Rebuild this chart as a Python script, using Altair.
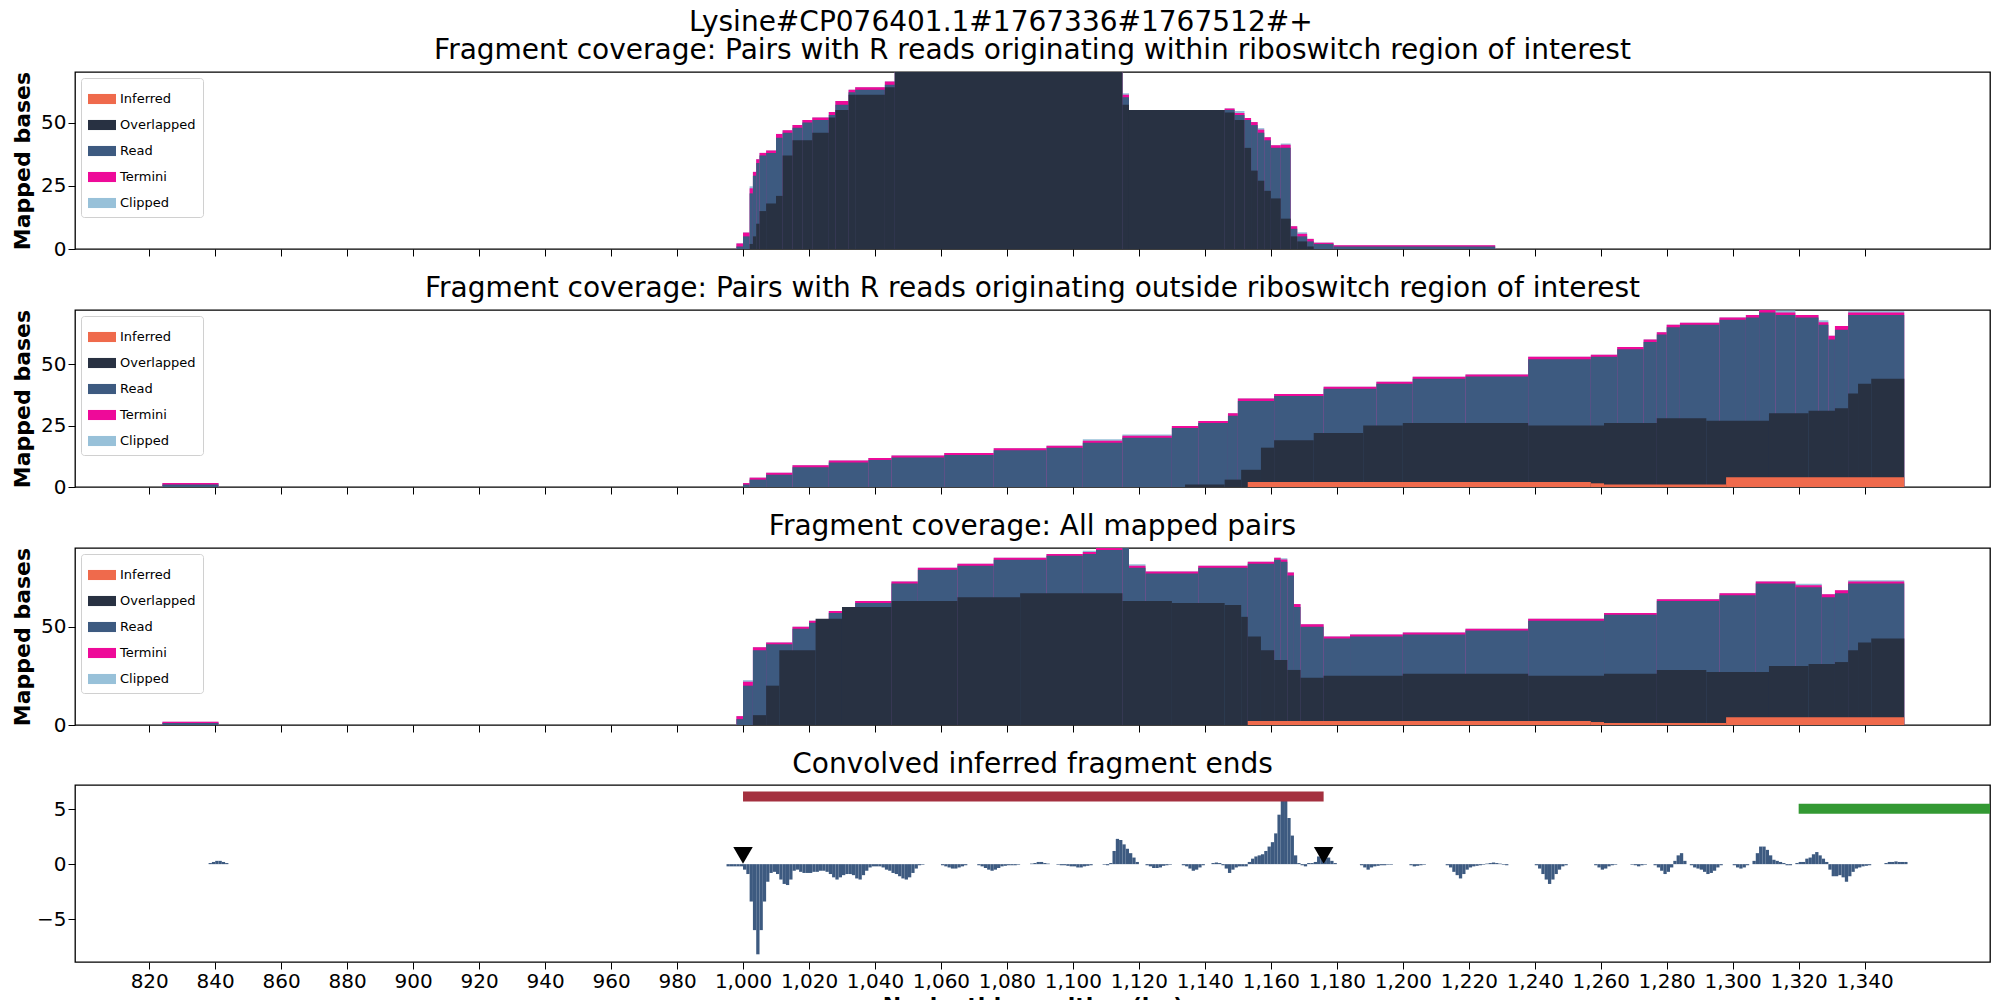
import altair as alt
import pandas as pd

FONT = "DejaVu Sans"
X_DOMAIN = [797.5, 1378]
X_TICKS = list(range(820, 1341, 20))

# ---- panel 1: pairs with R reads originating within riboswitch region ----
p1_pos = [998, 1000, 1002, 1003, 1004, 1005, 1007, 1010, 1012, 1015, 1018, 1021, 1026, 1028, 1032, 1034, 1043,
          1046, 1115, 1117, 1146, 1149, 1152, 1154, 1156, 1158, 1160, 1163, 1166, 1168, 1171, 1173, 1179, 1228]
p1_tot = [1, 5, 22, 29, 34, 37, 38, 44, 46, 48, 50, 51, 53, 57, 62, 63, 65,
          72, 60, 55, 55, 53, 51, 49, 46, 43, 40, 40, 8, 5, 3, 2, 1]
p1_ovl = [0, 0, 2, 5, 10, 15, 18, 21, 37, 43, 43, 46, 52, 55, 61, 61, 64,
          72, 57, 55, 54, 51, 40, 31, 27, 23, 20, 12, 5, 3, 1, 0, 0]
p1_term = [1.2, 1.5, 2, 1.5, 1.5, 1, 1, 1.5, 1, 1, 1, 1, 1.2, 1.5, 1, 1, 1.2,
           0, 1, 0, 0.6, 0.8, 0.8, 1.2, 1.2, 1.2, 1, 1.2, 1, 1, 1, 0.5, 0.5]
p1_clip = [0, 0, 0.8, 0, 0, 0, 0, 0, 0, 0, 0, 0, 0, 0, 0, 0, 0,
           0, 0.6, 0, 0, 0.8, 0, 0, 0.6, 0, 0, 0.5, 0, 0.6, 0, 0, 0]
p1_inf_pos = [998, 1228]
p1_inf = [0]

# ---- panel 2: pairs with R reads originating outside riboswitch region ----
p2_pos = [824, 841, 1000, 1002, 1007, 1015, 1026, 1038, 1045, 1061, 1076, 1092, 1103, 1115, 1130, 1138, 1147,
          1150, 1161, 1176, 1192, 1203, 1219, 1238, 1257, 1265, 1273, 1277, 1280, 1284, 1296, 1304, 1308,
          1313, 1319, 1326, 1329, 1331, 1335, 1352]
p2_tot = [1, 0, 1, 3, 5, 8, 10, 11, 12, 13, 15, 16, 18, 20, 24, 26, 29,
          35, 37, 40, 42, 44, 45, 52, 53, 56, 59, 62, 65, 66, 68, 69, 71,
          70, 69, 66, 60, 64, 70]
p2_term = [0.6, 0, 0.6, 0.8, 0.8, 0.8, 0.8, 0.8, 0.8, 0.8, 0.8, 0.8, 0.8, 0.8, 0.8, 0.8, 1,
           1, 0.8, 0.8, 0.8, 0.8, 0.8, 1, 0.8, 1, 1, 1, 1, 0.8, 1, 1, 1,
           1, 1, 1, 1.5, 1.5, 1]
p2_clip = [0, 0, 0, 0, 0, 0, 0, 0, 0, 0, 0, 0, 0.6, 0.6, 0, 0, 0,
           0, 0, 0, 0, 0, 0, 0, 0, 0, 0, 0, 0, 0, 0, 0, 0,
           0.8, 0, 0.8, 0, 0, 0.6]
p2_ovl_pos = [1134, 1146, 1151, 1157, 1161, 1173, 1188, 1200, 1238, 1261, 1277, 1292, 1311, 1323, 1331, 1335,
              1338, 1342, 1352]
p2_ovl = [1, 3, 7, 16, 19, 22, 25, 26, 25, 26, 28, 27, 30, 31, 32, 38, 42, 44]
p2_inf_pos = [1153, 1257, 1261, 1298, 1352]
p2_inf = [2, 1.5, 1, 4]

# ---- panel 3: all mapped pairs ----
p3_pos = [824, 841, 998, 1000, 1003, 1007, 1015, 1020, 1026, 1034, 1045, 1053, 1065, 1076, 1092, 1103, 1107,
          1115, 1117, 1122, 1138, 1153, 1161, 1163, 1165, 1167, 1169, 1176, 1184, 1200, 1219, 1238, 1261,
          1277, 1296, 1307, 1319, 1327, 1331, 1335, 1352]
p3_tot = [1, 0, 3, 20, 38, 41, 49, 52, 57, 62, 72, 79, 81, 84, 86, 87, 89,
          92, 80, 77, 80, 82, 84, 83, 76, 60, 50, 44, 45, 46, 48, 53, 56,
          63, 66, 72, 70, 65, 67, 72]
p3_term = [0.6, 0, 1.5, 2, 1.5, 1, 1, 1, 1, 1, 1, 1, 1, 1, 1, 1, 1,
           0, 1, 1, 1, 1, 1, 1.2, 1.5, 1.5, 1.2, 1, 1, 1, 1, 1, 1,
           1, 1, 1, 1, 1.5, 1.5, 1]
p3_clip = [0, 0, 0, 0.8, 0, 0, 0, 0, 0, 0, 0, 0, 0, 0, 0, 0.6, 0,
           0, 0.8, 0, 0, 0, 0, 0.6, 0, 0, 0, 0, 0, 0, 0, 0, 0,
           0, 0, 0, 0.8, 0, 0, 0.6]
p3_ovl_pos = [1003, 1007, 1011, 1022, 1030, 1045, 1065, 1084, 1115, 1130, 1146, 1151, 1153, 1157, 1161, 1165,
              1169, 1176, 1200, 1238, 1261, 1277, 1292, 1311, 1323, 1331, 1335, 1338, 1342, 1352]
p3_ovl = [5, 20, 38, 54, 60, 63, 65, 67, 63, 62, 61, 55, 45, 38, 33, 28, 24, 25, 26, 25,
          26, 28, 27, 30, 31, 32, 38, 42, 44]
p3_inf_pos = [1153, 1257, 1261, 1298, 1352]
p3_inf = [2, 1.5, 1, 4]

# ---- panel 4: convolved inferred fragment ends (runs of 1-bp bins) ----
conv_run_starts = [838, 995, 1060, 1071, 1087, 1095, 1109, 1122, 1133, 1142, 1187, 1202, 1213, 1240, 1258,
                   1269, 1276, 1287, 1300, 1306, 1319, 1346]
conv_run_values = [
    [0.1, 0.2, 0.3, 0.3, 0.2, 0.1],
    [-0.2, -0.2, -0.2, -0.2, -0.2, -0.5, -0.9, -3.4, -6, -8.2, -6, -3.4, -1.6, -0.8, -0.7, -0.9, -1.4, -1.8,
     -1.9, -1.4, -0.6, -0.5, -0.7, -0.8, -0.8, -0.8, -0.7, -0.7, -0.6, -0.6, -0.7, -0.9, -1.2, -1.4, -1.2,
     -1.0, -0.9, -0.9, -1.0, -1.3, -1.4, -1.0, -0.6, -0.3, -0.2, -0.2, -0.2, -0.3, -0.5, -0.6, -0.8, -0.9,
     -1.1, -1.3, -1.4, -1.2, -0.8, -0.4, -0.1, -0.05],
    [-0.1, -0.2, -0.3, -0.4, -0.4, -0.3, -0.2, -0.1],
    [-0.1, -0.2, -0.35, -0.5, -0.6, -0.5, -0.35, -0.2, -0.15, -0.1, -0.1, -0.1, -0.05],
    [0.05, 0.1, 0.2, 0.2, 0.1, 0.05],
    [-0.05, -0.1, -0.1, -0.15, -0.2, -0.2, -0.3, -0.3, -0.2, -0.15, -0.1],
    [-0.05, -0.1, 0.1, 1.2, 2.3, 2.2, 1.8, 1.4, 1.0, 0.6, 0.2],
    [-0.1, -0.2, -0.35, -0.35, -0.3, -0.15, -0.1, -0.05],
    [-0.1, -0.2, -0.4, -0.6, -0.5, -0.3, -0.1],
    [0.1, 0.15, 0.1, -0.1, -0.4, -0.8, -0.5, -0.3, -0.2, -0.2, -0.2, 0.2, 0.5, 0.7, 0.8, 0.9, 1.2, 1.6, 2.0,
     2.8, 4.5, 6.2, 6.5, 4.2, 2.6, 0.8, 0.1, -0.1, -0.2, 0.1, 0.1, 0.2, 0.7, 0.9, 0.9, 0.6, 0.3, 0.1],
    [-0.1, -0.3, -0.5, -0.3, -0.2, -0.15, -0.1, -0.1, -0.05, -0.05],
    [-0.1, -0.2, -0.15, -0.1, -0.05],
    [-0.1, -0.3, -0.7, -1.0, -1.3, -0.9, -0.5, -0.3, -0.2, -0.15, -0.1, -0.05, 0.05, 0.1, 0.15, 0.1, 0.05,
     -0.05, -0.1],
    [-0.1, -0.4, -0.9, -1.4, -1.8, -1.4, -0.9, -0.5, -0.2, -0.1],
    [-0.1, -0.3, -0.5, -0.4, -0.2, -0.1, -0.05],
    [-0.05, -0.1, -0.2, -0.1, -0.05],
    [-0.1, -0.3, -0.6, -0.9, -0.7, -0.3, 0.3, 0.8, 1.0, 0.3],
    [-0.1, -0.3, -0.4, -0.5, -0.7, -0.9, -0.8, -0.6, -0.3, -0.1],
    [-0.1, -0.3, -0.4, -0.3, -0.1],
    [0.3, 1.0, 1.6, 1.6, 1.3, 0.8, 0.4, 0.3, 0.2, 0.1, -0.1, -0.1],
    [0.1, 0.2, 0.2, 0.5, 0.6, 0.9, 1.1, 0.8, 0.5, 0.2, -0.5, -1.1, -1.1, -1.0, -1.2, -1.6, -1.1, -0.7, -0.4,
     -0.3, -0.2, -0.15, -0.1],
    [0.1, 0.2, 0.2, 0.25, 0.2, 0.2, 0.2],
]

# region bars and fragment-end markers
region_names = ["riboswitch", "downstream"]
region_start = [1000, 1320]
region_end = [1176, 1378]
region_y = [6.15, 5.05]
region_color = ["#a4303f", "#339933"]
end_marks = [1000, 1176]
end_mark_y = [0.8, 0.8]

LAYERS = ["Inferred", "Overlapped", "Read", "Termini", "Clipped"]
LAYER_COLORS = ["#ef6a4c", "#283142", "#3d5a80", "#ee0a99", "#98c1d9"]
cscale = alt.Scale(domain=LAYERS, range=LAYER_COLORS)


def steps(pos, vals, name):
    return pd.DataFrame({"x": pos[:-1], "x2": pos[1:], "top": vals, "layer": name})


def xaxis(bottom=False):
    return alt.Axis(values=X_TICKS, labels=bottom, ticks=True, grid=False, tickSize=7, tickColor="black",
                    labelFontSize=20, titleFontSize=22, labelFont=FONT, titleFont=FONT,
                    title="Nucleotide position (bp)" if bottom else "", labelColor="black", titleColor="black",
                    domain=False)


def coverage_panel(title, pos, tot, ovl_pos, ovl, term, clip, inf_pos, inf, ymax, yticks):
    frames = [
        steps(pos, [t + e + c for t, e, c in zip(tot, term, clip)], "Clipped"),
        steps(pos, [t + e for t, e in zip(tot, term)], "Termini"),
        steps(pos, tot, "Read"),
        steps(ovl_pos, ovl, "Overlapped"),
        steps(inf_pos, inf, "Inferred"),
    ]
    legend = alt.Legend(title=None, orient="top-left", offset=6, symbolType="M-1,-0.36H1V0.36H-1Z",
                        symbolSize=784, symbolStrokeWidth=0, labelFontSize=13, labelFont=FONT,
                        padding=7, rowPadding=5, strokeColor="#d0d0d0", fillColor="white", cornerRadius=3,
                        labelColor="black", values=LAYERS, symbolOpacity=1)
    layers = []
    for df in frames:
        layers.append(alt.Chart(df).mark_rect(clip=True, strokeWidth=0, opacity=1).encode(
            x=alt.X("x:Q", scale=alt.Scale(domain=X_DOMAIN, nice=False, zero=False), axis=xaxis()),
            x2="x2:Q",
            y=alt.Y("top:Q", scale=alt.Scale(domain=[0, ymax], nice=False),
                    axis=alt.Axis(values=yticks, title="Mapped bases", grid=False, tickSize=7,
                                  labelFontSize=20, titleFontSize=22, labelFont=FONT, titleFont=FONT,
                                  labelColor="black", titleColor="black", domain=False, tickColor="black")),
            y2=alt.datum(0),
            color=alt.Color("layer:N", scale=cscale, legend=legend),
        ))
    return alt.layer(*layers).properties(
        width=1915, height=177,
        title=alt.TitleParams(title, fontSize=28, fontWeight="normal", font=FONT, offset=6, color="black"))


p1 = coverage_panel("Fragment coverage: Pairs with R reads originating within riboswitch region of interest",
                    p1_pos, p1_tot, p1_pos, p1_ovl, p1_term, p1_clip, p1_inf_pos, p1_inf, 70, [0, 25, 50])
p2 = coverage_panel("Fragment coverage: Pairs with R reads originating outside riboswitch region of interest",
                    p2_pos, p2_tot, p2_ovl_pos, p2_ovl, p2_term, p2_clip, p2_inf_pos, p2_inf, 72, [0, 25, 50])
p3 = coverage_panel("Fragment coverage: All mapped pairs",
                    p3_pos, p3_tot, p3_ovl_pos, p3_ovl, p3_term, p3_clip, p3_inf_pos, p3_inf, 90, [0, 50])

conv_rows = []
for s, vals in zip(conv_run_starts, conv_run_values):
    for i, v in enumerate(vals):
        conv_rows.append({"x": s + i, "x2": s + i + 1, "v": v})
conv_df = pd.DataFrame(conv_rows)

xs4 = alt.Scale(domain=X_DOMAIN, nice=False, zero=False)
ys4 = alt.Scale(domain=[-8.9, 7.2], nice=False)
yax4 = alt.Axis(values=[-5, 0, 5], title=None, grid=False, tickSize=7, labelFontSize=20, labelFont=FONT,
                labelColor="black", domain=False, tickColor="black")

bars4 = alt.Chart(conv_df).mark_rect(color="#3d5a80", strokeWidth=0).encode(
    x=alt.X("x:Q", scale=xs4, axis=xaxis(True)), x2="x2:Q",
    y=alt.Y("v:Q", scale=ys4, axis=yax4), y2=alt.datum(0))

reg_df = pd.DataFrame({"name": region_names, "x": region_start, "x2": region_end, "y": region_y,
                       "c": region_color})
regions = alt.Chart(reg_df).mark_rule(strokeWidth=10, clip=True).encode(
    x="x:Q", x2="x2:Q", y="y:Q", color=alt.Color("c:N", scale=None))

mark_df = pd.DataFrame({"x": end_marks, "y": end_mark_y})
marks = alt.Chart(mark_df).mark_point(shape="triangle-down", filled=True, color="black", size=380,
                                      opacity=1).encode(x="x:Q", y="y:Q")

p4 = alt.layer(bars4, regions, marks).properties(
    width=1915, height=177,
    title=alt.TitleParams("Convolved inferred fragment ends", fontSize=28, fontWeight="normal", font=FONT,
                          offset=6, color="black"))

chart = alt.vconcat(p1, p2, p3, p4, spacing=14).resolve_scale(color="independent").properties(
    title=alt.TitleParams("Lysine#CP076401.1#1767336#1767512#+", fontSize=28, fontWeight="normal", font=FONT,
                          anchor="middle", offset=0, color="black"),
    padding={"left": 2, "top": 0, "right": 0, "bottom": 0},
).configure_view(stroke="black", strokeWidth=1.3).configure_axisY(titlePadding=6)

chart.save("out.html", embed_options={"renderer": "svg", "actions": False})
